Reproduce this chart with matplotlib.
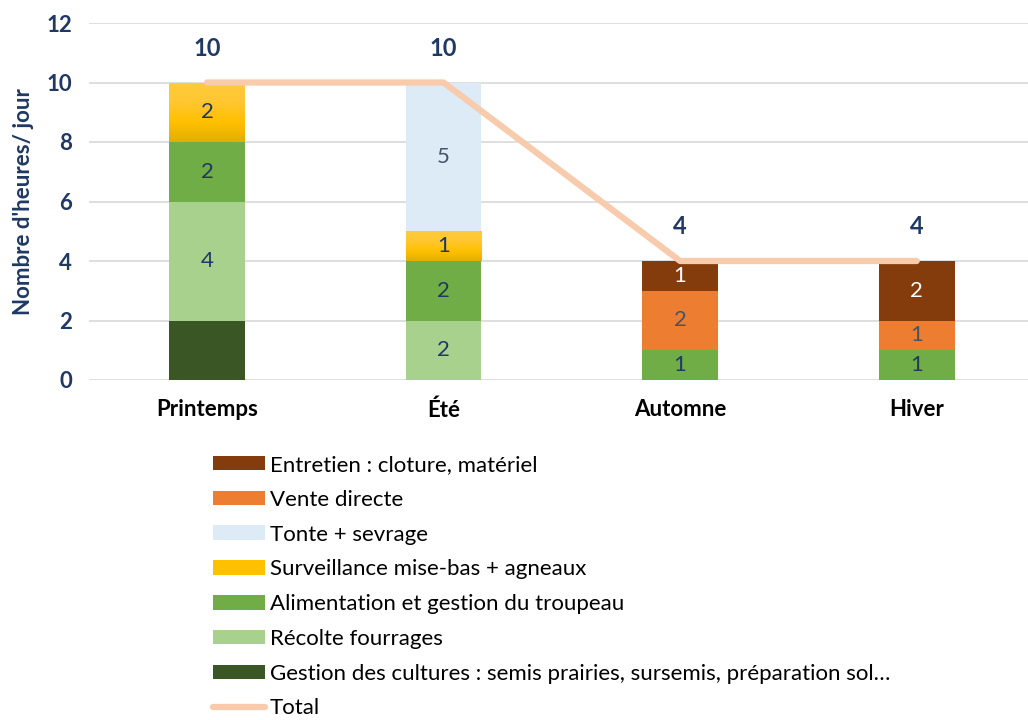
import numpy as np
import matplotlib
matplotlib.use("Agg")
import matplotlib.pyplot as plt
from matplotlib.patches import Patch
from matplotlib.lines import Line2D
from matplotlib.colors import LinearSegmentedColormap

plt.rcParams['font.family'] = ['Lato', 'DejaVu Sans']

seasons = ["Printemps", "Été", "Automne", "Hiver"]
series_names = [
    "Gestion des cultures : semis prairies, sursemis, préparation sol…",
    "Récolte fourrages",
    "Alimentation et gestion du troupeau",
    "Surveillance mise-bas + agneaux",
    "Tonte + sevrage",
    "Vente directe",
    "Entretien : cloture, matériel",
]
gestion = [2, 0, 0, 0]
recolte = [4, 2, 0, 0]
alimentation = [2, 2, 1, 1]
surveillance = [2, 1, 0, 0]
tonte = [0, 5, 0, 0]
vente = [0, 0, 2, 1]
entretien = [0, 0, 1, 2]
total = [10, 10, 4, 4]

series = [gestion, recolte, alimentation, surveillance, tonte, vente, entretien]
colors = ["#3A5624", "#A9D18E", "#70AD47", "#FFC000", "#DDEBF7", "#ED7D31", "#843C0C"]
label_colors = [None, "#1F3864", "#1F3864", "#1F3864", "#44546A", "#44546A", "#FFFFFF"]
navy = "#1F3864"

fig = plt.figure(figsize=(10.28, 7.2), dpi=100)
ax = fig.add_axes([88.7/1028, 1 - 380/720, (1028 - 88.7)/1028, 357/720])

x = np.arange(len(seasons))
width = 0.32
bottom = np.zeros(len(seasons))
gold_cmap = LinearSegmentedColormap.from_list("gold", ["#E3AE00", "#FFC000", "#FFC72F", "#FFCA40"])
for i, (vals, col) in enumerate(zip(series, colors)):
    vals = np.array(vals, dtype=float)
    bars = ax.bar(x, vals, width, bottom=bottom, color=col, zorder=2)
    if i == 3:
        for b in bars:
            if b.get_height() > 0:
                x0, y0 = b.get_x(), b.get_y()
                grad = np.linspace(0, 1, 100).reshape(-1, 1)
                im = ax.imshow(grad, cmap=gold_cmap, origin='lower', aspect='auto',
                               extent=[x0, x0 + b.get_width(), y0, y0 + b.get_height()], zorder=2.1)
                im.set_clip_path(b)
    if label_colors[i] is not None:
        for xi, v, b0 in zip(x, vals, bottom):
            if v > 0:
                ax.text(xi, b0 + v / 2, f"{int(v)}", ha='center', va='center',
                        fontsize=16, color=label_colors[i], zorder=3)
    bottom += vals

ax.plot(x, total, color="#F8CBAD", lw=4.5, solid_capstyle='round', solid_joinstyle='round', zorder=4)
for xi, t in zip(x, total):
    ax.text(xi, t + 1.15, f"{t}", ha='center', va='center', fontsize=17, fontweight='bold', color=navy)

ax.set_xlim(-0.5, 3.5 - 7/236.7)
ax.set_ylim(0, 12)
ax.set_yticks(range(0, 13, 2))
ax.set_xticks(x)
ax.set_xticklabels(seasons, fontsize=16, fontweight='bold', color='black')
ax.tick_params(axis='x', length=0, pad=14)
ax.tick_params(axis='y', length=0, pad=12, labelsize=16, labelcolor=navy)
for lab in ax.get_yticklabels():
    lab.set_fontweight('bold')
ax.grid(axis='y', color='#D9D9D9', lw=1.2, zorder=0)
ax.set_axisbelow(True)
for s in ax.spines.values():
    s.set_visible(False)
ax.set_ylabel("Nombre d'heures/ jour", fontsize=16, fontweight='bold', color=navy, labelpad=9)

handles = [Patch(facecolor=colors[i]) for i in range(6, -1, -1)]
labels = [series_names[i] for i in range(6, -1, -1)]
handles.append(Line2D([0], [0], color="#F8CBAD", lw=4.5, solid_capstyle='round'))
labels.append("Total")
fig.legend(handles, labels, loc='upper left', bbox_to_anchor=(213/1028, 1 - 455/720),
           frameon=False, fontsize=16, handlelength=2.34, handleheight=0.63,
           handletextpad=0.22, labelspacing=0.665, borderaxespad=0, borderpad=0)

fig.savefig("out.png", dpi=100)
